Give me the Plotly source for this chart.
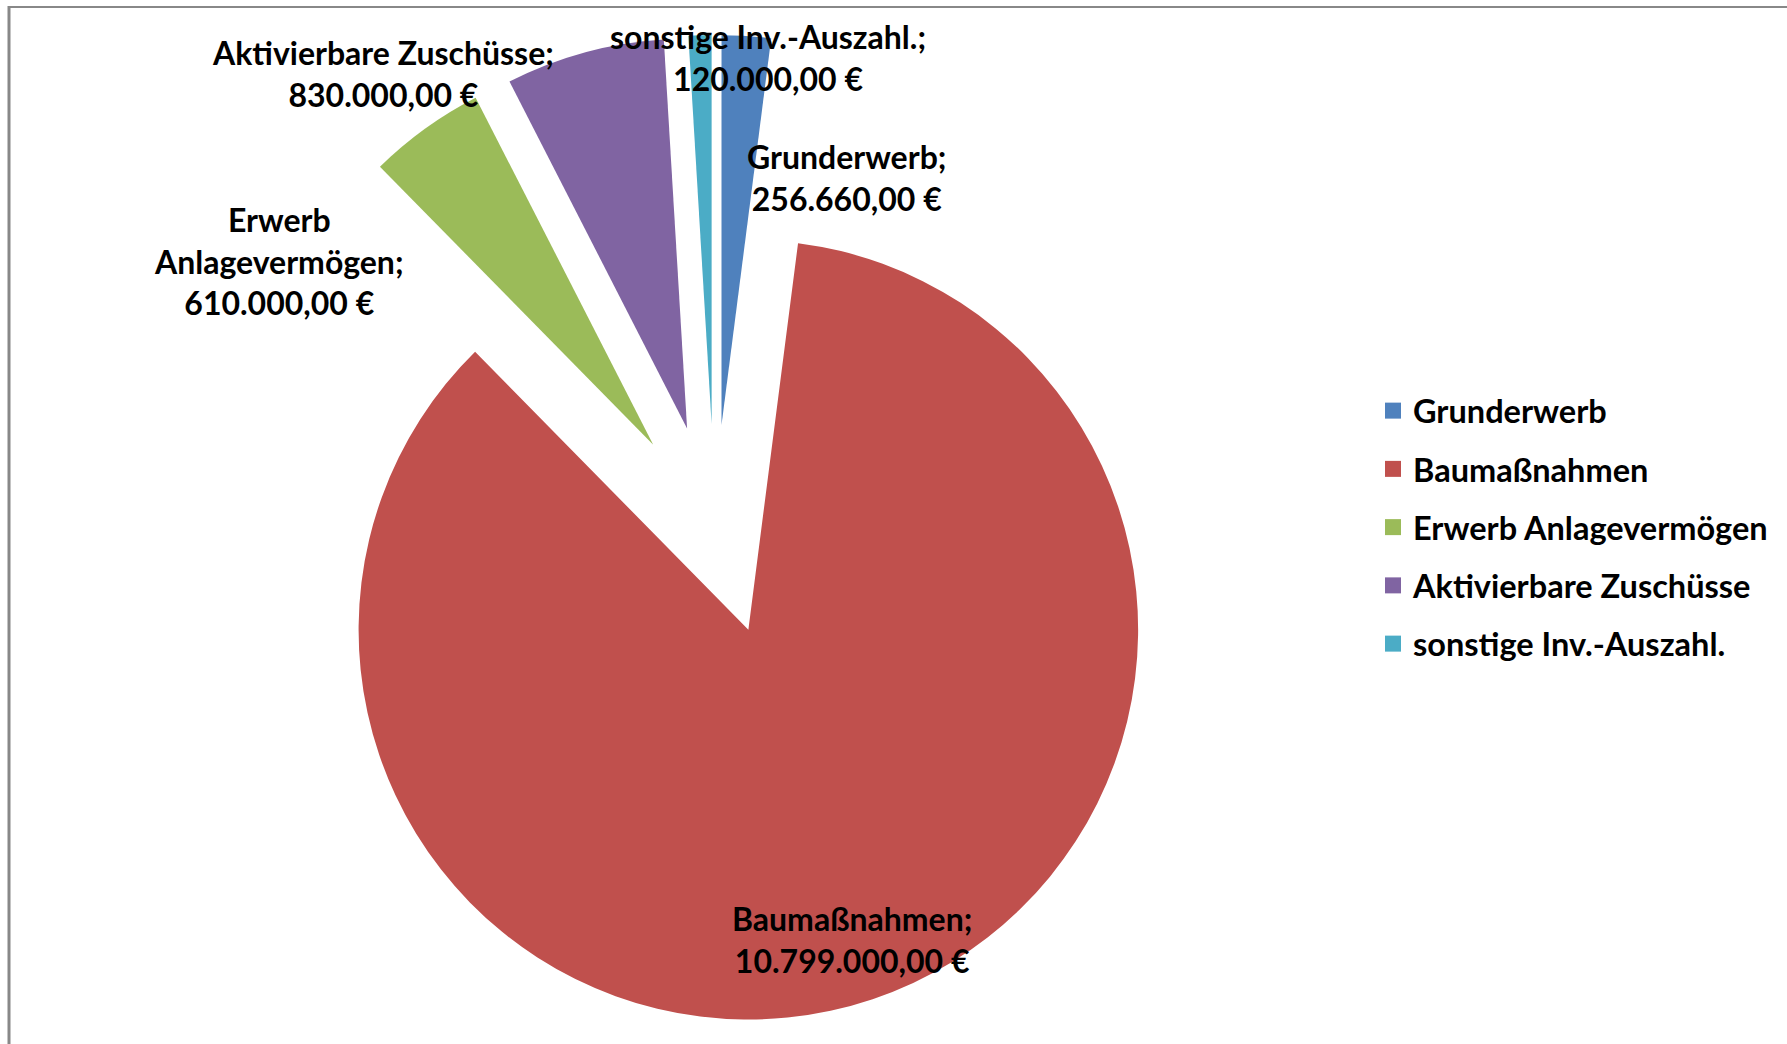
import plotly.graph_objects as go

labels = ["Grunderwerb", "Baumaßnahmen", "Erwerb Anlagevermögen", "Aktivierbare Zuschüsse", "sonstige Inv.-Auszahl."]
values = [256660, 10799000, 610000, 830000, 120000]
colors = ["#4F81BD", "#C0504D", "#9BBB59", "#8064A2", "#4BACC6"]
# data-label texts (as in the reference, German number format)
label_lines = [["Grunderwerb;"], ["Baumaßnahmen;"], ["Erwerb", "Anlagevermögen;"],
               ["Aktivierbare Zuschüsse;"], ["sonstige Inv.-Auszahl.;"]]
# label anchor positions in pixels (x, y from top)
label_pos = [(846, 177), (852, 939), (279, 261), (383, 73), (768, 57)]

W, H = 1787, 1044
FONT = "Lato"


def fmt_eur(v):
    s = f"{v:,.2f}"
    s = s.replace(",", "X").replace(".", ",").replace("X", ".")
    return s + " €"


fig = go.Figure()
fig.add_trace(go.Pie(
    labels=labels, values=values, sort=False, direction="clockwise", rotation=0,
    marker=dict(colors=colors, line=dict(width=0)),
    pull=[0.27] * len(values), textinfo="none", hoverinfo="label+value",
    showlegend=False,
    domain=dict(x=[0.12, 0.68], y=[0.0182, 0.9665]),
))

# legend entries
for i, (lab, col) in enumerate(zip(labels, colors)):
    fig.add_trace(go.Scatter(
        x=[None], y=[None], mode="markers", name=lab, legendgroup=f"g{i}",
        marker=dict(symbol="square", size=16, color=col),
    ))

for lines, val, (px, py) in zip(label_lines, values, label_pos):
    txt = "<br>".join(lines + [fmt_eur(val)])
    fig.add_annotation(
        x=px / W, y=1 - py / H, xref="paper", yref="paper",
        text=txt, showarrow=False, xanchor="center", yanchor="middle",
        font=dict(family=FONT, size=32, color="black", weight="bold"),
        align="center",
    )

# chart border (top and left visible)
fig.add_shape(type="line", xref="paper", yref="paper", x0=9 / W, x1=1, y0=1 - 7 / H, y1=1 - 7 / H,
              line=dict(color="#888888", width=2))
fig.add_shape(type="line", xref="paper", yref="paper", x0=9 / W, x1=9 / W, y0=0, y1=1 - 6 / H,
              line=dict(color="#888888", width=3))

fig.update_layout(
    width=W, height=H,
    margin=dict(l=0, r=0, t=0, b=0),
    paper_bgcolor="white", plot_bgcolor="white",
    xaxis=dict(visible=False), yaxis=dict(visible=False),
    showlegend=True,
    legend=dict(x=1373 / W, y=1 - 383 / H, xanchor="left", yanchor="top",
                font=dict(family=FONT, size=32.5, color="black", weight="bold"),
                tracegroupgap=13, bgcolor="rgba(0,0,0,0)", itemsizing="trace"),
)

fig.write_html("out.html")
